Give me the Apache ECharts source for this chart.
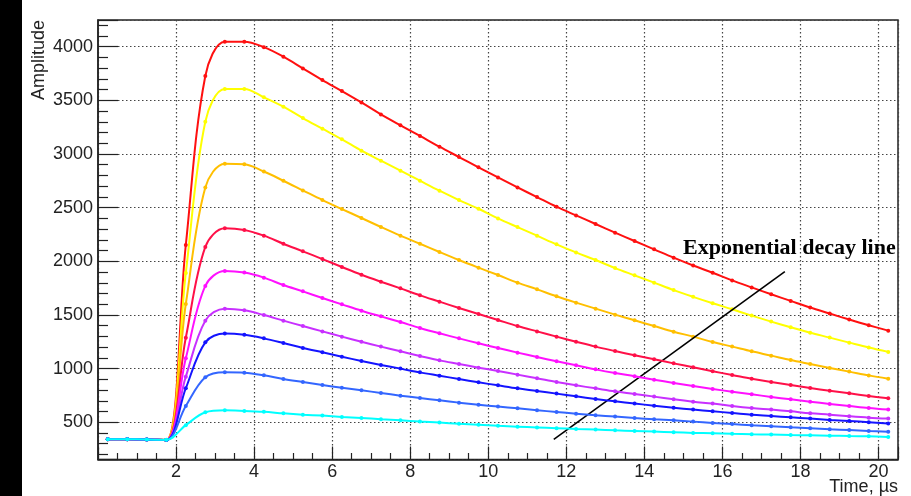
<!DOCTYPE html>
<html>
<head>
<meta charset="utf-8">
<script src="https://cdn.jsdelivr.net/npm/echarts@6/dist/echarts.min.js"></script>
<style>
html,body{margin:0;padding:0;background:#ffffff;}
#chart{width:911px;height:496px;}
</style>
</head>
<body>
<div id="chart"></div>
<script>
// ---- data ----
const timeUs = [0.25,0.75,1.25,1.75,2.25,2.75,3.25,3.75,4.25,4.75,5.25,5.75,6.25,6.75,7.25,7.75,8.25,8.75,9.25,9.75,
                10.25,10.75,11.25,11.75,12.25,12.75,13.25,13.75,14.25,14.75,15.25,15.75,16.25,16.75,17.25,17.75,18.25,18.75,19.25,19.75,20.25];

const ampRed = [341,341,340,335, 2152,3727,4047,4047,3996,3907,3798,3689,3587,3481,3369,3267,3168,3068,2972,2876,
                2782,2689,2599,2509,2428,2348,2267,2189,2112,2034, 1961,1894,1822,1757,1693,1631,1569,1513,1457,1404,1354];
const ampYellow = [341,341,340,335, 1890,3301,3606,3606,3528,3441,3335,3236,3137,3031,2938,2845,2751,2658,2571,2490,
                   2400,2319,2239,2158,2083,2012,1937,1869,1801,1732, 1669,1609,1553,1494,1438,1385,1335,1289,1242,1196,1156];
const ampOrange = [341,341,340,335, 1602,2688,2910,2904,2837,2751,2661,2571,2487,2404,2320,2239,2164,2087,2012,1941,
                   1872,1801,1739,1674,1615,1559,1503,1450,1397,1344, 1298,1248,1205,1161,1121,1080,1043,1006,972,937,906];
const ampCrimson = [341,341,340,335, 1288,2134,2308,2292,2239,2164,2093,2021,1947,1875,1810,1748,1683,1624,1565,1509,
                    1453,1397,1347,1298,1251,1205,1164,1124,1087,1049, 1012,975,941,906,875,847,819,794,770,745,723];
const ampMagenta = [341,341,340,335, 1096,1771,1910,1895,1848,1779,1720,1658,1599,1540,1487,1434,1379,1329,1282,1236,
                    1192,1149,1108,1068,1031,993,959,929,897,866, 838,810,785,761,736,714,692,671,652,633,618];
const ampViolet = [341,341,340,335, 925,1447,1558,1543,1499,1447,1397,1347,1298,1251,1205,1161,1118,1077,1043,1009,
                   978,944,910,875,844,816,788,764,739,714, 692,674,652,633,618,602,584,571,556,543,534];
const ampBlue = [341,341,340,335, 817,1245,1327,1315,1282,1239,1193,1152,1111,1071,1034,1000,965,934,903,872,
                 844,816,792,767,742,717,695,674,655,636, 618,602,587,571,559,546,534,522,512,501,488];
const ampAzure = [341,341,340,335, 652,919,966,962,938,903,875,847,822,798,773,748,726,705,683,664,
                  646,630,612,596,580,565,553,540,528,518, 506,494,484,472,463,453,444,435,427,419,412];
const ampCyan = [341,341,340,336, 473,593,612,606,597,583,571,562,550,540,528,518,507,497,487,478,
                 467,459,452,445,438,432,425,419,413,407, 401,397,392,388,385,381,378,375,372,369,363];

const seriesValues = [ampRed, ampYellow, ampOrange, ampCrimson, ampMagenta, ampViolet, ampBlue, ampAzure, ampCyan];
const seriesNames = ['Pulse 1','Pulse 2','Pulse 3','Pulse 4','Pulse 5','Pulse 6','Pulse 7','Pulse 8','Pulse 9'];
const seriesColors = ['#ff1010','#ffff00','#ffbf00','#ff1048','#ff10ff','#c830ff','#1414ff','#3366ff','#00ffff'];

const xTitle = 'Time, µs';
const yTitle = 'Amplitude';
const annotationText = 'Exponential decay line';
const decayLineFrom = [11.68, 341];
const decayLineTo = [17.6, 1903];

// ---- chart ----
const chart = echarts.init(document.getElementById('chart'), null, {renderer: 'canvas'});

const tickColor = '#222';
const labelFont = 'Liberation Sans';

const series = seriesValues.map((vals, i) => ({
  name: seriesNames[i],
  type: 'line',
  data: timeUs.map((t, k) => [t, vals[k]]),
  smooth: 0.35,
  symbol: 'circle',
  symbolSize: 4,
  showSymbol: true,
  lineStyle: {color: seriesColors[i], width: 2},
  itemStyle: {color: seriesColors[i]},
  emphasis: {disabled: true},
  z: 2 + i
}));

series.push({
  name: 'decay',
  type: 'line',
  data: [],
  z: 20,
  markLine: {
    silent: true,
    symbol: ['none', 'none'],
    label: {show: false},
    lineStyle: {color: '#000', width: 1.6, type: 'solid'},
    data: [[{coord: decayLineFrom}, {coord: decayLineTo}]]
  }
});

const plainNumber = v => String(v);

const option = {
  animation: false,
  backgroundColor: '#ffffff',
  grid: {left: 98, right: 13, top: 20, bottom: 36.5, containLabel: false, outerBoundsMode: 'none',
         show: true, borderColor: '#222', borderWidth: 1.5, backgroundColor: 'transparent'},
  xAxis: {
    type: 'value', min: 0, max: 20.5, interval: 2,
    name: xTitle, nameLocation: 'end', nameGap: 0, nameMoveOverlap: false,
    nameTextStyle: {fontFamily: labelFont, fontSize: 18, color: '#222', align: 'right', verticalAlign: 'top', padding: [19, 0, 0, 0]},
    axisLine: {show: true, onZero: false, lineStyle: {color: tickColor, width: 1.5}},
    axisTick: {show: true, inside: true, length: 13, lineStyle: {color: tickColor, width: 1.2}},
    minorTick: {show: true, splitNumber: 4, length: 6.5, lineStyle: {color: tickColor, width: 1.2}},
    axisLabel: {fontFamily: labelFont, fontSize: 18, color: '#222', margin: 4, showMinLabel: false, showMaxLabel: false, formatter: plainNumber},
    splitLine: {show: true, lineStyle: {color: '#444', width: 1.2, type: [1.5, 2.5]}}
  },
  yAxis: {
    type: 'value', min: 153, max: 4249, splitNumber: 8,
    name: yTitle, nameLocation: 'end', nameGap: 0, nameRotate: 90, nameMoveOverlap: false,
    nameTextStyle: {fontFamily: labelFont, fontSize: 18, color: '#222', align: 'right', verticalAlign: 'bottom', padding: [0, 0, 50, 0]},
    axisLine: {show: true, lineStyle: {color: tickColor, width: 1.5}},
    axisTick: {show: true, inside: true, length: 20, lineStyle: {color: tickColor, width: 1.2}},
    minorTick: {show: true, splitNumber: 5, length: 10, lineStyle: {color: tickColor, width: 1.2}},
    axisLabel: {fontFamily: labelFont, fontSize: 18, color: '#222', margin: 5, showMinLabel: false, showMaxLabel: false, formatter: plainNumber},
    splitLine: {show: true, lineStyle: {color: '#444', width: 1.2, type: [1.5, 2.5]}}
  },
  graphic: [
    {type: 'rect', left: 0, top: 0, shape: {width: 22, height: 496}, style: {fill: '#000'}, z: 100},
    {type: 'text', x: 683, y: 248, z: 100,
     style: {text: annotationText, fill: '#000', font: 'bold 22px "Liberation Serif"', align: 'left', verticalAlign: 'middle'}}
  ],
  series: series
};

chart.setOption(option);
</script>
</body>
</html>
